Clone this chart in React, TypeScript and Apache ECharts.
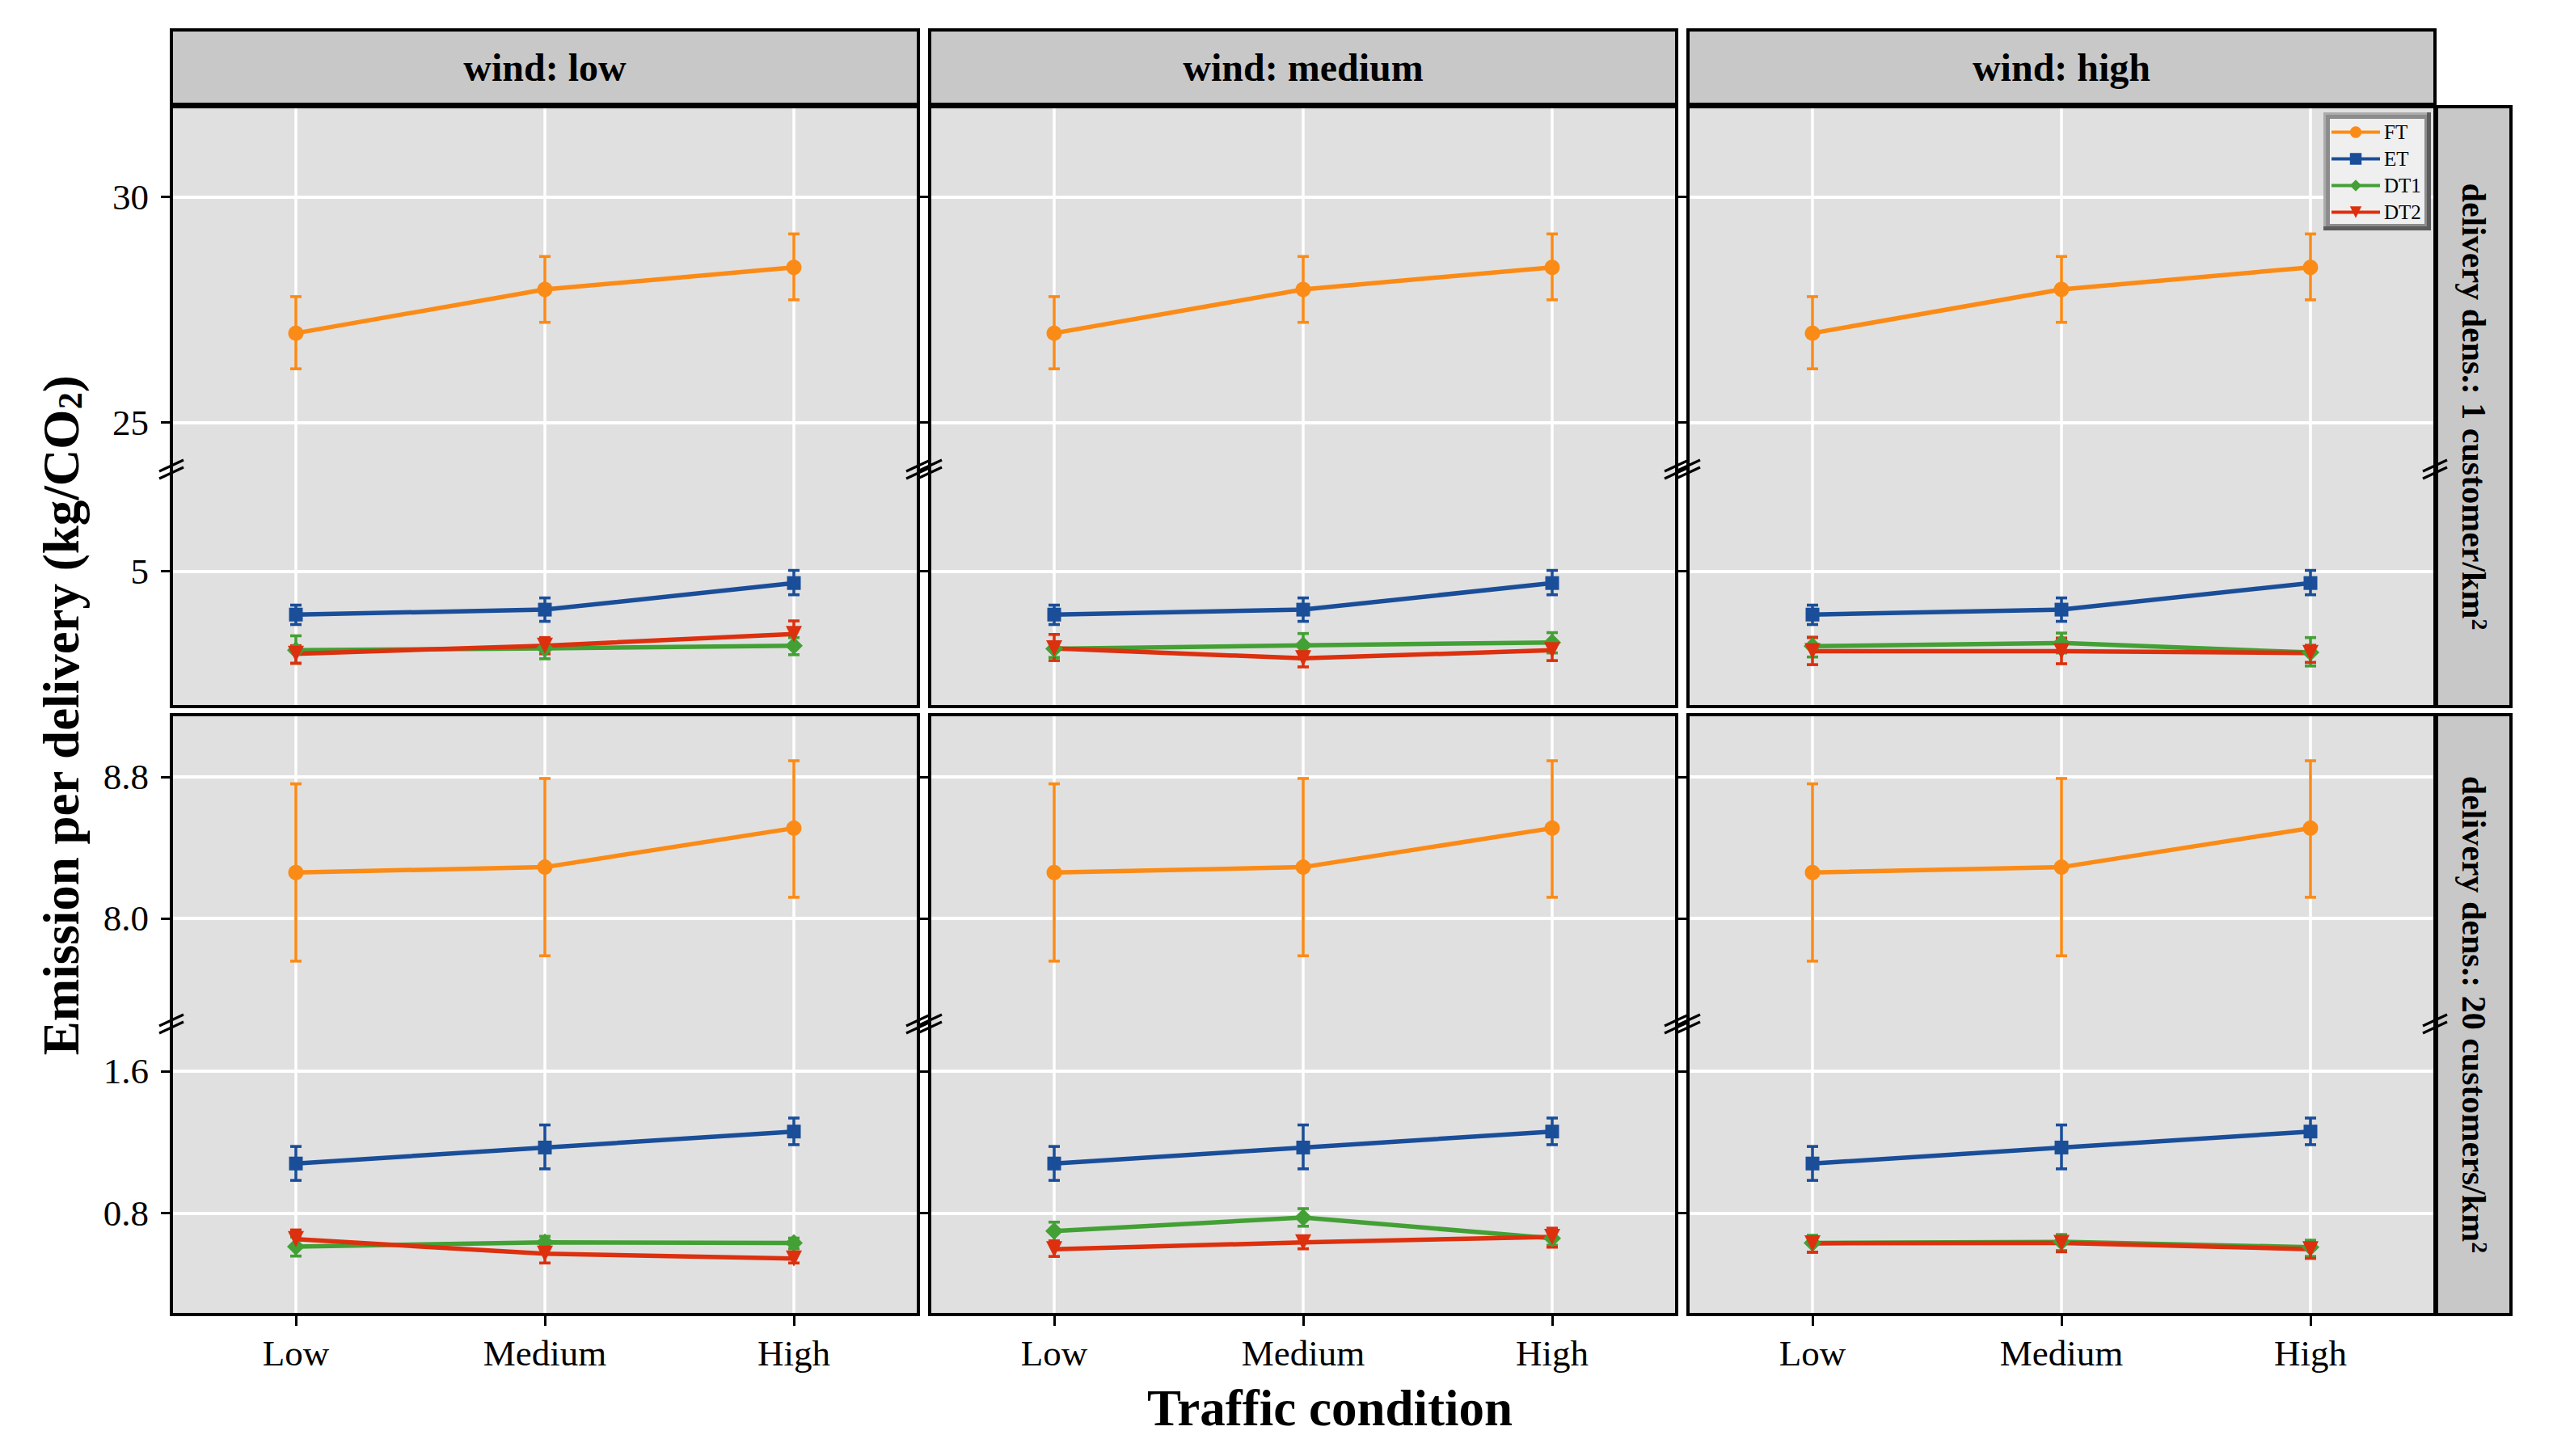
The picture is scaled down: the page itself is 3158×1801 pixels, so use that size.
import * as echarts from "echarts";
import { useEffect, useRef } from "react";

const categories = ["Low", "Medium", "High"];
const windLabels = ["wind: low", "wind: medium", "wind: high"];
const densityLabels = ["1 customer", "20 customers"];
const seriesNames = ["FT", "ET", "DT1", "DT2"];

// delivery density 1 customer/km2 (FT and ET are the same for every wind level)
const ftMeanD1 = [26.98, 27.95, 28.44];
const ftLowD1 = [26.19, 27.22, 27.72];
const ftHighD1 = [27.79, 28.68, 29.18];
const etMeanD1 = [4.04, 4.15, 4.74];
const etLowD1 = [3.82, 3.89, 4.48];
const etHighD1 = [4.25, 4.41, 5.02];
// one row per wind level: low, medium, high
const dt1MeanD1 = [[3.25, 3.29, 3.35], [3.28, 3.36, 3.42], [3.34, 3.41, 3.2]];
const dt1LowD1 = [[2.96, 3.06, 3.15], [3.09, 3.06, 3.19], [3.1, 3.19, 2.9]];
const dt1HighD1 = [[3.57, 3.45, 3.53], [3.44, 3.62, 3.64], [3.54, 3.63, 3.53]];
const dt2MeanD1 = [[3.17, 3.35, 3.61], [3.29, 3.07, 3.25], [3.23, 3.23, 3.19]];
const dt2LowD1 = [[2.96, 3.17, 3.31], [3.02, 2.88, 3.02], [2.93, 2.95, 2.98]];
const dt2HighD1 = [[3.35, 3.53, 3.9], [3.6, 3.22, 3.44], [3.53, 3.52, 3.36]];

// delivery density 20 customers/km2
const ftMeanD20 = [8.26, 8.29, 8.51];
const ftLowD20 = [7.76, 7.79, 8.12];
const ftHighD20 = [8.76, 8.79, 8.89];
const etMeanD20 = [1.08, 1.17, 1.26];
const etLowD20 = [0.985, 1.05, 1.186];
const etHighD20 = [1.176, 1.297, 1.336];
const dt1MeanD20 = [[0.612, 0.636, 0.633], [0.7, 0.776, 0.659], [0.633, 0.639, 0.609]];
const dt1LowD20 = [[0.559, 0.6, 0.6], [0.644, 0.727, 0.62], [0.58, 0.59, 0.557]];
const dt1HighD20 = [[0.666, 0.67, 0.66], [0.75, 0.826, 0.7], [0.676, 0.68, 0.648]];
const dt2MeanD20 = [[0.654, 0.572, 0.545], [0.598, 0.636, 0.667], [0.631, 0.633, 0.598]];
const dt2LowD20 = [[0.605, 0.52, 0.52], [0.557, 0.6, 0.609], [0.581, 0.583, 0.546]];
const dt2HighD20 = [[0.706, 0.625, 0.575], [0.644, 0.66, 0.716], [0.666, 0.666, 0.62]];

// broken y axis: upper and lower segment for each row
const yRangeUpper = [[23.9, 32], [7.39, 9.15]];
const yRangeLower = [[2.0, 7.2], [0.23, 1.85]];
const yTicksUpper = [[25, 30], [8.0, 8.8]];
const yTicksLower = [[5], [0.8, 1.6]];

const COLORS = { FT: "#FB8B17", ET: "#1A4E99", DT1: "#43A035", DT2: "#DC300E" };
const SYMBOLS = {
  FT: { symbol: "circle", size: 19 },
  ET: { symbol: "rect", size: 17 },
  DT1: { symbol: "diamond", size: 22 },
  DT2: { symbol: "path://M0,0 L10,0 L5,9 Z", size: 20 },
};

const FONT = "Liberation Serif";
const colLeft = [212, 1150, 2088];
const panelW = 924;
const rowTop = [132, 884];
const rowBottom = [874, 1626];
const breakY = [584, 1270];
const legendBox = { x: 2874, y: 139, w: 133, h: 146 };

function pts(values) {
  return values.map((v, i) => [i + 1, v]);
}
function bars(lo, hi) {
  return lo.map((v, i) => [i + 1, v, hi[i]]);
}

function errorBar(name, color, data, gi) {
  return {
    name: name + " err",
    type: "custom",
    xAxisIndex: gi,
    yAxisIndex: gi,
    data,
    encode: { x: 0, y: [1, 2] },
    renderItem: (params, api) => {
      const x = api.value(0);
      const top = api.coord([x, api.value(2)]);
      const bot = api.coord([x, api.value(1)]);
      const w = 7;
      const style = { stroke: color, lineWidth: 3.6 };
      return {
        type: "group",
        children: [
          { type: "line", shape: { x1: top[0], y1: top[1], x2: bot[0], y2: bot[1] }, style },
          { type: "line", shape: { x1: top[0] - w, y1: top[1], x2: top[0] + w, y2: top[1] }, style },
          { type: "line", shape: { x1: bot[0] - w, y1: bot[1], x2: bot[0] + w, y2: bot[1] }, style },
        ],
      };
    },
  };
}

function lineSeries(name, data, gi) {
  const s = SYMBOLS[name];
  return {
    name,
    type: "line",
    xAxisIndex: gi,
    yAxisIndex: gi,
    data,
    symbol: s.symbol,
    symbolSize: s.size,
    lineStyle: { color: COLORS[name], width: 5.5 },
    itemStyle: { color: COLORS[name] },
  };
}

function textEl(x, y, text, fontSize, bold, rotation, rich) {
  return {
    type: "text",
    z: 51,
    x,
    y,
    rotation: rotation || 0,
    style: {
      text,
      fontFamily: FONT,
      fontSize,
      fontWeight: bold ? "bold" : "normal",
      fill: "#000",
      align: "center",
      verticalAlign: "middle",
      textAlign: "center",
      textVerticalAlign: "middle",
      rich,
    },
  };
}

function getChartOption() {
  const grids = [];
  const xAxes = [];
  const yAxes = [];
  const series = [];
  const graphics = [];

  for (let r = 0; r < 2; r++) {
    for (let c = 0; c < 3; c++) {
      const left = colLeft[c];
      const segs = [
        { top: rowTop[r], bottom: breakY[r], range: yRangeUpper[r], ticks: yTicksUpper[r], upper: true },
        { top: breakY[r], bottom: rowBottom[r], range: yRangeLower[r], ticks: yTicksLower[r], upper: false },
      ];
      segs.forEach((seg) => {
        const gi = grids.length;
        grids.push({
          left,
          top: seg.top,
          width: panelW,
          height: seg.bottom - seg.top,
          show: true,
          backgroundColor: "#E0E0E0",
          borderWidth: 0,
          outerBoundsMode: "none",
        });
        const showX = r === 1 && !seg.upper;
        xAxes.push({
          type: "value",
          gridIndex: gi,
          min: 0.5,
          max: 3.5,
          axisLine: { show: false },
          axisTick: {
            show: showX,
            customValues: [1, 2, 3],
            length: 14,
            lineStyle: { color: "#000", width: 3 },
          },
          axisLabel: {
            show: showX,
            customValues: [1, 2, 3],
            formatter: (v) => categories[Math.round(v) - 1],
            fontFamily: FONT,
            fontSize: 45,
            color: "#000",
            margin: 25,
          },
          splitLine: { show: true, lineStyle: { color: "#FFFFFF", width: 3.5 } },
        });
        yAxes.push({
          type: "value",
          gridIndex: gi,
          min: seg.range[0],
          max: seg.range[1],
          axisLine: { show: false },
          axisTick: {
            show: true,
            customValues: seg.ticks,
            length: 13,
            lineStyle: { color: "#000", width: 3 },
          },
          axisLabel: {
            show: c === 0,
            customValues: seg.ticks,
            formatter: (v) => (r === 1 ? v.toFixed(1) : String(Math.round(v))),
            fontFamily: FONT,
            fontSize: 45,
            color: "#000",
            margin: 28,
          },
          splitLine: { show: true, lineStyle: { color: "#FFFFFF", width: 4 } },
        });

        if (seg.upper) {
          const ft = r === 0 ? [ftMeanD1, ftLowD1, ftHighD1] : [ftMeanD20, ftLowD20, ftHighD20];
          series.push(errorBar("FT", COLORS.FT, bars(ft[1], ft[2]), gi));
          series.push(lineSeries("FT", pts(ft[0]), gi));
        } else {
          const et = r === 0 ? [etMeanD1, etLowD1, etHighD1] : [etMeanD20, etLowD20, etHighD20];
          const d1 =
            r === 0
              ? [dt1MeanD1[c], dt1LowD1[c], dt1HighD1[c]]
              : [dt1MeanD20[c], dt1LowD20[c], dt1HighD20[c]];
          const d2 =
            r === 0
              ? [dt2MeanD1[c], dt2LowD1[c], dt2HighD1[c]]
              : [dt2MeanD20[c], dt2LowD20[c], dt2HighD20[c]];
          series.push(errorBar("ET", COLORS.ET, bars(et[1], et[2]), gi));
          series.push(lineSeries("ET", pts(et[0]), gi));
          series.push(errorBar("DT1", COLORS.DT1, bars(d1[1], d1[2]), gi));
          series.push(lineSeries("DT1", pts(d1[0]), gi));
          series.push(errorBar("DT2", COLORS.DT2, bars(d2[1], d2[2]), gi));
          series.push(lineSeries("DT2", pts(d2[0]), gi));
        }
      });

      // panel border
      graphics.push({
        type: "rect",
        z: 50,
        shape: { x: left, y: rowTop[r], width: panelW, height: rowBottom[r] - rowTop[r] },
        style: { fill: "none", stroke: "#000", lineWidth: 4 },
      });
      // axis break marks on both sides
      [left, left + panelW].forEach((bx) => {
        [0, 9].forEach((off) => {
          graphics.push({
            type: "line",
            z: 52,
            shape: { x1: bx - 15, y1: breakY[r] - 1 + off, x2: bx + 15, y2: breakY[r] - 15 + off },
            style: { stroke: "#000", lineWidth: 3.2 },
          });
        });
      });
    }
  }

  // top strips
  for (let c = 0; c < 3; c++) {
    graphics.push({
      type: "rect",
      z: 50,
      shape: { x: colLeft[c], y: 37, width: panelW, height: 92 },
      style: { fill: "#C8C8C8", stroke: "#000", lineWidth: 4 },
    });
    graphics.push(textEl(colLeft[c] + panelW / 2, 83, windLabels[c], 48, true));
  }

  // right strips
  for (let r = 0; r < 2; r++) {
    graphics.push({
      type: "rect",
      z: 50,
      shape: { x: 3014, y: rowTop[r], width: 92, height: rowBottom[r] - rowTop[r] },
      style: { fill: "#C8C8C8", stroke: "#000", lineWidth: 4 },
    });
    graphics.push(
      textEl(3060, (rowTop[r] + rowBottom[r]) / 2, "delivery dens.: " + densityLabels[r] + "/km{sup|2}", 42, true, -Math.PI / 2, {
        sup: { fontFamily: FONT, fontSize: 28, fontWeight: "bold", lineHeight: 22, verticalAlign: "top" },
      })
    );
  }

  // axis titles
  graphics.push(textEl(1645, 1742, "Traffic condition", 63, true));
  graphics.push(
    textEl(76, 885, "Emission per delivery (kg/CO{sub|2})", 63, true, Math.PI / 2, {
      sub: { fontFamily: FONT, fontSize: 42, fontWeight: "bold", lineHeight: 20, verticalAlign: "bottom" },
    })
  );

  // legend box with bevelled frame
  const { x: lx, y: ly, w: lw, h: lh } = legendBox;
  graphics.push({
    type: "rect",
    z: 55,
    shape: { x: lx + 4, y: ly + 4, width: lw - 8, height: lh - 8 },
    style: { fill: "#EFEFEF", stroke: "#8C8C8C", lineWidth: 8 },
  });
  graphics.push({
    type: "polyline",
    z: 56,
    shape: { points: [[lx + 1.5, ly + lh], [lx + 1.5, ly + 1.5], [lx + lw, ly + 1.5]] },
    style: { stroke: "#ABABAB", lineWidth: 3, fill: "none" },
  });
  graphics.push({
    type: "polyline",
    z: 56,
    shape: { points: [[lx, ly + lh - 2.5], [lx + lw - 2.5, ly + lh - 2.5], [lx + lw - 2.5, ly]] },
    style: { stroke: "#5C5C5C", lineWidth: 5, fill: "none" },
  });

  return {
    animation: false,
    textStyle: { fontFamily: FONT },
    legend: {
      data: seriesNames,
      orient: "vertical",
      left: lx + 8,
      top: ly + 12,
      itemWidth: 60,
      itemHeight: 18,
      itemGap: 8,
      selectedMode: false,
      padding: 0,
      lineStyle: { width: 4 },
      textStyle: { fontFamily: FONT, fontSize: 25, color: "#000" },
      z: 60,
    },
    grid: grids,
    xAxis: xAxes,
    yAxis: yAxes,
    series,
    graphic: { elements: graphics },
  };
}

export default function App() {
  const chartRef = useRef(null);
  useEffect(() => {
    const chart = echarts.init(chartRef.current, null, { renderer: "svg" });
    chart.setOption(getChartOption());
    return () => {
      chart.dispose();
    };
  }, []);
  return (
    <div
      ref={chartRef}
      style={{ position: "fixed", left: 0, top: 0, width: "3158px", height: "1801px", background: "#fff" }}
    />
  );
}
